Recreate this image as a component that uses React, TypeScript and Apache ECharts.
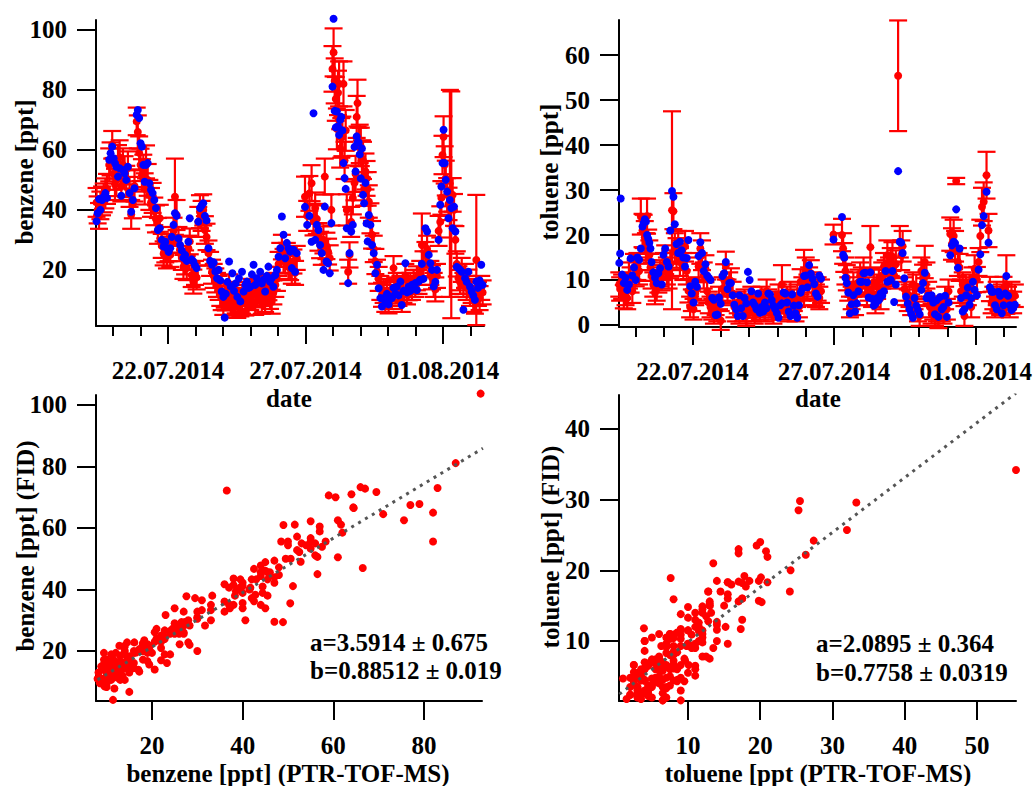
import React, { useEffect, useRef } from "react";
import * as echarts from "echarts";

// Each row: [day of July 2014 (32 = 01.08), PTR-TOF-MS value, PTR error, FID value]
const benzeneSamples = [
  [19.40, 42.5, 4.8, 36.2], [19.44, 40.0, 4.5, 38.9], [19.49, 38.0, 4.3, 43.6], [19.54, 41.5, 4.6, 40.0],
  [19.60, 43.0, 4.8, 43.3], [19.66, 44.0, 4.8, 44.4], [19.72, 45.5, 5.0, 45.6], [19.78, 47.0, 5.0, 44.0],
  [19.86, 55.0, 5.5, 56.7], [19.91, 57.0, 5.5, 58.9], [19.97, 61.7, 4.6, 61.1], [20.02, 52.0, 5.3, 57.2],
  [20.07, 48.5, 5.2, 55.6], [20.12, 50.0, 5.4, 54.4], [20.18, 56.0, 5.6, 51.1], [20.24, 57.5, 5.7, 53.9],
  [20.30, 48.0, 5.2, 44.7], [20.36, 55.0, 5.5, 53.3], [20.42, 52.5, 5.4, 52.2], [20.48, 49.5, 5.2, 50.0],
  [20.54, 54.0, 5.5, 54.4], [20.60, 46.0, 5.0, 45.6], [20.66, 38.5, 4.8, 39.4], [20.72, 42.0, 4.8, 43.3],
  [20.78, 48.0, 5.2, 47.2], [20.86, 69.5, 4.6, 71.7], [20.90, 66.0, 5.5, 73.3], [20.95, 59.0, 5.5, 70.6],
  [21.00, 55.0, 5.4, 62.2], [21.05, 51.5, 5.4, 61.1], [21.10, 53.0, 5.4, 55.0], [21.15, 47.0, 5.2, 49.4],
  [21.20, 56.0, 5.5, 55.0], [21.26, 50.0, 5.3, 55.6], [21.32, 45.0, 5.0, 48.9], [21.38, 42.5, 4.8, 46.7],
  [21.44, 44.0, 5.0, 45.6], [21.50, 39.5, 4.6, 43.3], [21.56, 37.0, 4.5, 40.6], [21.63, 33.0, 4.3, 33.3],
  [21.70, 37.2, 4.5, 33.9], [21.77, 28.0, 4.0, 30.0], [21.84, 25.5, 4.0, 27.8], [21.90, 26.5, 4.0, 29.4],
  [21.96, 24.5, 4.0, 27.2], [22.02, 27.0, 4.1, 26.0], [22.08, 25.0, 4.0, 27.2], [22.14, 30.0, 4.3, 31.0],
  [22.20, 33.0, 4.4, 35.0], [22.25, 44.4, 12.7, 38.9], [22.31, 38.3, 5.0, 38.0], [22.38, 30.0, 4.3, 30.5],
  [22.44, 27.0, 4.1, 28.3], [22.50, 24.0, 4.0, 26.5], [22.56, 21.0, 4.0, 24.0], [22.62, 22.5, 4.0, 25.0],
  [22.68, 20.6, 4.0, 23.0], [22.74, 27.2, 4.2, 29.4], [22.79, 29.5, 4.3, 37.2], [22.86, 18.3, 4.0, 23.5],
  [22.92, 16.1, 4.0, 22.8], [22.98, 19.0, 4.0, 21.5], [23.04, 17.5, 4.0, 20.6], [23.10, 36.0, 5.0, 36.1],
  [23.16, 39.4, 5.5, 40.6], [23.22, 38.0, 5.0, 41.5], [23.28, 40.0, 5.2, 42.2], [23.34, 33.3, 4.6, 38.0],
  [23.40, 31.0, 4.4, 36.5], [23.47, 25.6, 4.2, 27.2], [23.53, 22.0, 4.0, 23.0], [23.60, 19.4, 4.0, 21.7],
  [23.66, 18.0, 4.0, 22.5], [23.72, 16.5, 4.0, 19.5], [23.78, 15.0, 4.0, 17.2], [23.84, 14.0, 4.0, 20.0],
  [23.90, 12.0, 4.0, 16.5], [23.95, 10.6, 4.0, 12.8], [24.01, 9.0, 4.0, 11.0], [24.06, 11.4, 4.0, 4.1],
  [24.10, 10.5, 4.0, 12.0], [24.16, 12.0, 4.0, 16.0], [24.22, 14.5, 4.0, 22.8], [24.28, 9.0, 4.0, 14.5],
  [24.34, 11.0, 4.0, 18.9], [24.40, 8.2, 4.0, 13.0], [24.46, 9.5, 4.0, 15.5], [24.52, 8.0, 4.0, 11.0],
  [24.58, 10.0, 4.0, 17.2], [24.63, 8.5, 4.0, 9.5], [24.69, 9.4, 4.0, 19.4], [24.75, 12.0, 4.0, 12.8],
  [24.81, 8.8, 4.0, 15.0], [24.87, 11.0, 4.0, 16.1], [24.93, 9.0, 4.0, 14.0], [24.99, 10.6, 4.0, 14.4],
  [25.05, 13.0, 4.0, 18.5], [25.11, 12.8, 4.0, 21.7], [25.17, 9.0, 4.0, 15.0], [25.23, 11.5, 4.0, 17.2],
  [25.29, 14.0, 4.0, 16.1], [25.35, 12.0, 4.0, 19.4], [25.41, 9.4, 4.0, 15.5], [25.47, 13.0, 4.0, 16.7],
  [25.53, 10.0, 4.0, 12.8], [25.59, 14.5, 4.0, 18.0], [25.65, 13.9, 4.0, 21.1], [25.71, 11.0, 4.0, 16.0],
  [25.77, 9.4, 4.0, 17.2], [25.83, 12.5, 4.0, 14.4], [25.90, 15.0, 4.0, 18.3], [25.96, 17.0, 4.0, 20.0],
  [26.02, 22.0, 4.0, 24.4], [26.08, 25.0, 4.0, 27.2], [26.14, 27.6, 4.1, 37.8], [26.20, 23.0, 4.0, 31.7],
  [26.26, 22.8, 4.0, 23.9], [26.32, 25.0, 4.0, 29.0], [26.38, 21.0, 4.0, 27.2], [26.44, 20.6, 4.0, 26.1],
  [26.50, 19.4, 4.0, 20.6], [26.56, 22.8, 4.0, 26.7], [26.62, 19.0, 4.0, 19.4], [26.68, 24.0, 4.0, 25.6],
  [26.98, 44.4, 6.7, 41.0], [27.06, 38.0, 5.0, 35.0], [27.14, 45.5, 5.8, 38.0], [27.22, 48.9, 6.0, 29.4],
  [27.29, 36.5, 5.0, 72.2], [27.35, 40.6, 5.2, 30.0], [27.41, 37.0, 5.0, 35.0], [27.47, 31.0, 4.6, 33.3],
  [27.53, 28.3, 4.4, 28.3], [27.59, 26.0, 4.3, 25.6], [27.65, 30.0, 4.5, 20.0], [27.70, 51.1, 6.0, 41.1],
  [27.76, 28.0, 4.4, 22.8], [27.82, 26.1, 4.3, 22.2], [27.88, 24.0, 4.2, 18.9], [27.94, 40.0, 5.2, 35.6],
  [27.98, 87.0, 7.6, 81.1], [28.02, 92.5, 8.0, 103.7], [28.06, 83.0, 7.5, 73.0], [28.10, 77.0, 7.3, 67.5],
  [28.14, 67.0, 6.8, 72.8], [28.18, 79.0, 7.4, 67.8], [28.22, 82.0, 7.5, 65.0], [28.26, 60.5, 6.4, 70.0],
  [28.30, 64.0, 6.6, 71.0], [28.34, 64.5, 6.6, 66.5], [28.38, 82.0, 7.5, 55.6], [28.42, 56.5, 6.2, 50.6],
  [28.46, 66.5, 6.8, 47.0], [28.50, 40.0, 5.2, 33.9], [28.55, 19.4, 4.0, 15.6], [28.60, 25.0, 4.2, 25.6],
  [28.66, 36.0, 5.0, 32.8], [28.72, 44.0, 5.5, 35.0], [28.78, 49.0, 5.8, 61.0], [28.82, 52.0, 6.0, 52.8],
  [28.86, 71.0, 7.0, 64.5], [28.89, 75.6, 7.8, 62.5], [28.93, 61.0, 6.4, 62.5], [28.97, 62.0, 6.4, 58.5],
  [29.01, 61.0, 6.4, 50.5], [29.05, 57.0, 6.2, 60.5], [29.09, 56.5, 6.2, 45.0], [29.13, 47.0, 5.6, 42.2],
  [29.18, 52.8, 6.0, 49.0], [29.22, 50.5, 5.8, 35.5], [29.26, 47.0, 5.6, 29.5], [29.30, 42.8, 5.4, 38.3],
  [29.36, 37.2, 5.0, 35.0], [29.42, 31.7, 4.6, 28.3], [29.48, 27.0, 4.4, 25.6], [29.54, 22.8, 4.2, 18.9],
  [29.60, 19.4, 4.0, 21.7], [29.66, 17.0, 4.0, 13.9], [29.72, 14.0, 4.0, 10.6], [29.78, 11.7, 4.0, 7.8],
  [29.84, 13.0, 4.0, 10.6], [29.90, 10.0, 4.0, 9.4], [29.96, 12.0, 4.0, 12.0], [30.02, 9.5, 4.0, 8.5],
  [30.08, 12.8, 4.0, 11.0], [30.14, 11.0, 4.0, 10.6], [30.20, 20.6, 4.0, 14.0], [30.26, 13.5, 4.0, 12.0],
  [30.32, 15.0, 4.0, 14.4], [30.38, 12.0, 4.0, 11.5], [30.45, 14.0, 4.0, 16.1], [30.50, 10.0, 4.0, 8.3],
  [30.56, 13.0, 4.0, 13.0], [30.63, 18.0, 4.0, 22.2], [30.69, 12.5, 4.0, 12.5], [30.75, 13.9, 4.0, 14.4],
  [30.81, 15.0, 4.0, 13.0], [30.87, 14.0, 4.0, 15.0], [30.93, 16.0, 4.0, 14.5], [30.99, 15.0, 4.0, 15.6],
  [31.05, 17.2, 4.0, 13.3], [31.11, 16.0, 4.0, 16.1], [31.17, 19.0, 4.0, 16.7], [31.23, 28.3, 10.5, 22.0],
  [31.29, 22.0, 4.2, 17.0], [31.36, 25.0, 4.3, 33.9], [31.42, 27.0, 4.4, 32.8], [31.48, 22.0, 4.2, 25.0],
  [31.54, 19.0, 4.0, 22.2], [31.60, 17.5, 4.0, 20.0], [31.66, 15.0, 4.0, 14.5], [31.72, 13.5, 4.0, 16.0],
  [31.78, 18.0, 4.0, 20.0], [31.84, 33.0, 5.0, 30.0], [31.90, 36.0, 5.2, 41.7], [31.94, 44.0, 5.6, 47.8],
  [31.98, 58.3, 6.4, 55.6], [32.02, 64.4, 6.8, 66.7], [32.06, 55.0, 6.2, 55.6], [32.10, 50.6, 5.8, 50.0],
  [32.15, 45.0, 5.6, 46.1], [32.20, 42.0, 5.4, 37.2], [32.25, 45.5, 34.5, 43.3], [32.30, 41.7, 37.8, 40.6],
  [32.35, 45.0, 5.6, 33.9], [32.40, 40.0, 5.3, 41.1], [32.45, 30.0, 4.6, 32.8], [32.50, 22.0, 4.2, 21.0],
  [32.56, 17.2, 4.0, 20.6], [32.62, 16.0, 4.0, 20.0], [32.68, 20.0, 4.0, 19.4], [32.74, 15.0, 4.0, 6.7],
  [32.80, 18.0, 4.0, 17.2], [32.86, 14.0, 4.0, 16.0], [32.92, 16.1, 4.0, 19.4], [32.98, 12.0, 4.0, 14.4],
  [33.04, 13.0, 4.0, 12.8], [33.10, 10.0, 4.0, 11.5], [33.16, 9.4, 4.0, 10.0], [33.21, 23.3, 21.7, 16.1],
  [33.27, 12.0, 4.0, 14.0], [33.33, 10.6, 4.0, 16.5], [33.39, 14.0, 4.0, 21.7], [33.44, 12.5, 4.0, 15.0],
];

const tolueneSamples = [
  [19.42, 9.0, 2.7, 13.8], [19.45, 8.0, 2.6, 15.9], [19.47, null, null, 28.1], [19.52, 8.5, 2.7, 11.2],
  [19.58, 6.3, 2.6, 9.3], [19.64, 7.0, 2.6, 10.5], [19.70, 6.0, 2.5, 7.8], [19.76, 11.0, 2.9, 9.0],
  [19.82, 10.0, 2.8, 14.8], [19.88, 7.5, 2.6, 11.0], [19.94, 12.8, 3.0, 12.8], [20.00, 11.5, 2.9, 10.0],
  [20.06, 13.0, 3.0, 15.0], [20.12, 12.0, 3.0, 14.5], [20.18, 24.1, 4.0, 17.0], [20.24, 21.0, 3.7, 21.9],
  [20.28, 20.8, 3.7, 22.7], [20.32, 19.5, 3.6, 23.5], [20.36, 17.0, 3.4, 23.0], [20.40, 24.2, 3.9, 20.0],
  [20.44, 17.8, 3.4, 19.2], [20.48, 15.5, 3.3, 18.3], [20.52, 12.8, 3.0, 17.0], [20.56, 11.0, 2.9, 14.0],
  [20.62, 9.0, 2.7, 11.7], [20.68, 7.2, 2.6, 10.5], [20.74, 8.0, 2.6, 9.3], [20.80, 10.0, 2.8, 11.5],
  [20.86, 11.5, 2.9, 12.6], [20.92, 10.5, 2.8, 9.0], [20.98, 13.0, 3.0, 15.6], [21.04, 14.5, 3.2, 17.0],
  [21.10, 12.0, 3.0, 14.0], [21.16, 11.0, 2.9, 13.0], [21.22, 13.5, 3.1, 21.0], [21.28, 25.5, 22.0, 29.8],
  [21.33, 25.3, 4.0, 28.5], [21.38, 17.0, 3.4, 22.4], [21.44, 16.0, 3.3, 18.0], [21.50, 17.5, 3.4, 16.0],
  [21.56, 14.0, 3.1, 18.5], [21.62, 15.5, 3.3, 16.6], [21.68, 13.0, 3.0, 15.0], [21.74, 17.5, 3.4, 13.0],
  [21.80, 12.0, 3.0, 14.9], [21.86, 7.6, 2.6, 18.9], [21.92, 4.0, 2.3, 8.6], [21.98, 5.5, 2.4, 7.0],
  [22.04, 3.5, 2.3, 5.0], [22.10, 7.0, 2.6, 9.6], [22.16, 8.0, 2.6, 8.5], [22.22, 13.0, 3.0, 15.3],
  [22.28, 17.0, 3.4, 18.4], [22.34, 15.5, 3.3, 16.0], [22.40, 11.0, 2.9, 12.0], [22.46, 12.5, 3.0, 13.5],
  [22.52, 7.5, 2.6, 11.0], [22.58, 5.0, 2.4, 10.5], [22.64, 4.0, 2.3, 10.0], [22.70, 3.5, 2.3, 6.0],
  [22.76, 2.5, 2.2, 5.6], [22.82, 4.5, 2.3, 2.2], [22.88, 3.0, 2.2, 2.3], [22.94, 6.0, 2.5, 6.1],
  [23.00, 1.0, 2.1, 4.7], [23.06, 8.0, 2.6, 10.9], [23.12, 10.0, 3.5, 11.5], [23.18, 13.2, 3.1, 14.0],
  [23.24, 7.5, 2.6, 8.0], [23.30, 9.0, 2.7, 9.3], [23.36, 9.8, 2.8, 9.3], [23.42, 7.0, 2.6, 6.6],
  [23.48, 4.0, 2.3, 4.5], [23.54, 3.0, 2.2, 3.5], [23.60, 5.0, 2.4, 2.0], [23.66, 2.5, 2.2, 6.6],
  [23.72, 4.5, 2.3, 3.7], [23.78, 3.0, 2.2, 2.0], [23.84, 5.5, 2.4, 6.0], [23.90, 2.0, 2.2, 4.8],
  [23.96, 3.9, 2.3, 11.8], [24.02, 4.0, 2.3, 10.0], [24.08, 6.0, 2.5, 7.5], [24.14, 3.0, 2.2, 5.0],
  [24.20, 2.5, 2.2, 4.4], [24.26, 4.5, 2.3, 3.5], [24.32, 5.0, 2.4, 7.0], [24.38, 3.5, 2.3, 2.7],
  [24.44, 6.0, 2.5, 4.0], [24.50, 4.0, 2.3, 3.0], [24.56, 3.0, 2.2, 5.0], [24.62, 7.5, 2.6, 3.7],
  [24.68, 5.5, 2.4, 7.0], [24.74, 4.5, 2.3, 6.8], [24.80, 3.5, 2.3, 5.5], [24.86, 2.5, 2.2, 4.3],
  [24.92, 5.0, 2.4, 3.5], [24.98, 4.0, 2.3, 2.6], [25.04, 6.5, 2.5, 1.6], [25.10, 3.5, 2.3, 4.4],
  [25.16, 9.0, 4.3, 4.8], [25.22, 5.0, 2.4, 7.2], [25.28, 4.0, 2.3, 7.0], [25.34, 6.0, 2.5, 5.0],
  [25.40, 3.0, 2.2, 3.0], [25.46, 7.0, 2.6, 2.0], [25.52, 4.5, 2.3, 6.8], [25.58, 5.5, 2.4, 4.3],
  [25.64, 3.0, 2.2, 2.6], [25.70, 6.5, 2.5, 1.6], [25.76, 4.0, 2.3, 4.4], [25.82, 9.6, 2.8, 7.2],
  [25.88, 8.0, 2.6, 8.1], [25.94, 10.5, 6.2, 10.9], [26.00, 12.0, 3.0, 11.0], [26.06, 8.5, 2.7, 8.4],
  [26.12, 10.0, 2.8, 13.3], [26.18, 11.5, 2.9, 11.4], [26.24, 9.0, 2.7, 10.3], [26.30, 7.0, 2.6, 9.1],
  [26.36, 6.5, 2.5, 7.0], [26.42, 8.0, 2.6, 6.3], [26.48, 6.0, 2.5, 11.0], [26.54, 7.5, 2.6, 10.3],
  [26.98, 20.1, 2.2, 19.0], [27.28, 20.0, 3.6, 24.0], [27.32, 17.0, 3.4, 15.6], [27.36, 15.0, 3.2, 15.0],
  [27.40, 12.0, 3.0, 10.5], [27.45, 10.5, 2.8, 9.3], [27.50, 8.0, 2.6, 7.2], [27.56, 4.0, 2.3, 2.6],
  [27.62, 6.0, 2.5, 4.6], [27.68, 9.0, 2.7, 6.6], [27.74, 4.5, 2.3, 3.0], [27.80, 7.0, 2.6, 4.8],
  [27.86, 9.5, 2.8, 7.5], [27.92, 11.0, 2.9, 9.6], [27.98, 10.0, 2.8, 9.6], [28.04, 12.0, 3.0, 11.5],
  [28.10, 9.0, 2.7, 11.6], [28.16, 7.0, 2.6, 9.5], [28.22, 8.0, 2.6, 6.1], [28.28, 17.3, 4.7, 11.7],
  [28.34, 6.5, 2.5, 5.8], [28.40, 9.5, 2.8, 4.3], [28.46, 5.0, 2.4, 4.7], [28.52, 8.5, 2.7, 6.0],
  [28.58, 10.0, 2.8, 5.5], [28.64, 6.0, 2.5, 7.0], [28.70, 11.0, 2.9, 6.5], [28.76, 13.0, 3.0, 7.5],
  [28.82, 11.5, 2.9, 12.0], [28.88, 15.5, 3.3, 9.6], [28.94, 12.0, 3.0, 9.8], [29.00, 14.0, 3.1, 10.0],
  [29.06, 15.2, 3.2, 12.0], [29.12, 11.0, 2.9, 5.1], [29.18, 13.5, 3.1, 9.0], [29.26, 55.4, 12.3, 34.2],
  [29.32, 18.5, 3.5, 18.5], [29.37, 15.5, 3.3, 18.3], [29.42, 17.5, 3.4, 16.0], [29.48, 8.0, 2.6, 10.4],
  [29.54, 7.0, 2.6, 6.3], [29.60, 5.5, 2.4, 4.8], [29.66, 6.5, 2.5, 3.5], [29.72, 4.5, 2.3, 2.5],
  [29.78, 9.0, 2.7, 1.6], [29.84, 6.0, 2.5, 6.0], [29.90, 8.5, 2.7, 4.3], [29.96, 3.0, 2.2, 3.3],
  [30.02, 2.0, 2.2, 2.4], [30.08, 12.0, 3.0, 7.8], [30.14, 10.5, 2.9, 9.3], [30.20, 14.0, 3.6, 11.6],
  [30.26, 11.0, 2.9, 6.0], [30.32, 7.0, 2.6, 6.5], [30.38, 4.0, 2.3, 6.0], [30.44, 2.5, 2.2, 6.6],
  [30.50, 3.5, 2.3, 5.0], [30.56, 2.0, 2.2, 2.4], [30.62, 3.0, 2.2, 5.5], [30.68, 1.5, 2.2, 1.8],
  [30.74, 4.0, 2.3, 6.2], [30.80, 3.0, 2.2, 3.5], [30.86, 2.5, 2.2, 4.0], [30.92, 6.0, 2.5, 6.5],
  [30.98, 3.5, 2.3, 1.8], [31.04, 7.5, 2.6, 5.0], [31.10, 20.2, 3.7, 15.5], [31.16, 18.0, 3.5, 17.7],
  [31.22, 19.8, 3.6, 18.5], [31.27, 17.5, 3.4, 18.2], [31.31, 32.0, 0.7, 25.7], [31.37, 14.0, 3.1, 12.7],
  [31.43, 12.8, 3.0, 17.0], [31.48, 7.5, 2.6, 6.0], [31.54, 9.0, 2.7, 3.0], [31.60, 2.0, 2.2, 3.5],
  [31.66, 8.0, 2.6, 6.6], [31.72, 7.0, 2.6, 8.3], [31.78, 8.5, 2.7, 4.5], [31.84, 4.0, 2.3, 6.0],
  [31.90, 10.0, 2.8, 9.6], [31.96, 12.5, 3.0, 7.8], [32.04, 10.1, 2.8, 6.6], [32.10, 14.0, 3.1, 12.3],
  [32.16, 19.8, 3.6, 15.7], [32.22, 26.3, 4.2, 22.2], [32.28, 27.4, 4.3, 24.2], [32.38, 33.3, 5.2, 29.6],
  [32.45, 21.0, 3.7, 18.3], [32.50, 8.0, 2.7, 8.4], [32.56, 5.0, 2.4, 7.4], [32.62, 6.0, 2.5, 7.4],
  [32.68, 4.0, 2.3, 4.4], [32.74, 7.0, 2.6, 3.5], [32.80, 5.5, 2.4, 7.4], [32.86, 4.5, 2.3, 6.5],
  [32.92, 6.5, 2.5, 2.6], [32.98, 8.0, 2.7, 4.4], [33.04, 5.0, 2.4, 7.0], [33.08, 9.0, 6.5, 10.9],
  [33.14, 6.0, 2.5, 6.5], [33.20, 4.0, 2.3, 4.4], [33.26, 7.0, 2.6, 3.3], [33.32, 5.0, 2.4, 3.7],
  [33.38, 6.5, 2.5, 4.5],
];

const dayTicks = [20, 21, 22, 23, 24, 25, 26, 27, 28, 29, 30, 31, 32, 33];
const dateTicks = [22, 27, 32];
const dateLabels = ["22.07.2014", "27.07.2014", "01.08.2014"];
const benzeneTicks = [20, 40, 60, 80, 100];
const tolueneTicks = [0, 10, 20, 30, 40, 50, 60];
const benzeneScatterXTicks = [20, 40, 60, 80];
const tolueneScatterXTicks = [10, 20, 30, 40, 50];
const tolueneScatterYTicks = [10, 20, 30, 40];
// fit y = a + b*x : [a, a error, b, b error]
const benzeneFit = [3.5914, 0.675, 0.88512, 0.019];
const tolueneFit = [2.0895, 0.364, 0.7758, 0.0319];

const FONT_FAMILY = '"Liberation Serif", "Times New Roman", serif';
const FS = 25;
const txt = { fontFamily: FONT_FAMILY, fontWeight: "bold", fontSize: FS, color: "#000" };
const RED = "#ff0000";
const BLUE = "#0000ff";

function yAx(gridIndex, min, max, ticks) {
  return {
    type: "value", gridIndex, min, max, position: "left",
    axisLine: { show: true, onZero: false, lineStyle: { color: "#000", width: 2 } },
    axisTick: { show: true, customValues: ticks, length: 19, lineStyle: { color: "#000", width: 2 } },
    axisLabel: { show: true, customValues: ticks, margin: 29, ...txt },
    splitLine: { show: false },
  };
}

function xAx(gridIndex, min, max, ticks, len, showLine, labelTicks, formatter) {
  return {
    type: "value", gridIndex, min, max, position: "bottom",
    axisLine: { show: showLine, onZero: false, lineStyle: { color: "#000", width: 2 } },
    axisTick: { show: true, customValues: ticks, length: len, lineStyle: { color: "#000", width: 2 } },
    axisLabel: labelTicks
      ? { show: true, customValues: labelTicks, margin: 32, formatter, ...txt }
      : { show: false },
    splitLine: { show: false },
  };
}

function errorBars(rows, xi, yi) {
  return {
    type: "custom", xAxisIndex: xi, yAxisIndex: yi, z: 2, clip: false,
    data: rows.filter((r) => r[1] !== null).map((r) => [r[0], r[1] - r[2], r[1] + r[2]]),
    encode: { x: 0, y: [1, 2] },
    renderItem: (params, api) => {
      const x = api.value(0);
      const lo = api.coord([x, api.value(1)]);
      const hi = api.coord([x, api.value(2)]);
      const hw = 9;
      const style = { stroke: RED, lineWidth: 2.2 };
      return {
        type: "group",
        children: [
          { type: "line", shape: { x1: lo[0], y1: lo[1], x2: hi[0], y2: hi[1] }, style },
          { type: "line", shape: { x1: hi[0] - hw, y1: hi[1], x2: hi[0] + hw, y2: hi[1] }, style },
          { type: "line", shape: { x1: lo[0] - hw, y1: lo[1], x2: lo[0] + hw, y2: lo[1] }, style },
        ],
      };
    },
  };
}

function dots(data, color, xi, yi, z) {
  return {
    type: "scatter", xAxisIndex: xi, yAxisIndex: yi, z, clip: false,
    symbol: "circle", symbolSize: 8, itemStyle: { color, opacity: 1, borderWidth: 0 },
    data,
  };
}

function fitLine(fit, x0, x1, xi, yi) {
  return {
    type: "line", xAxisIndex: xi, yAxisIndex: yi, z: 10, showSymbol: false, clip: true,
    lineStyle: { color: "#555555", width: 3, type: [3, 5] },
    data: [[x0, fit[0] + fit[2] * x0], [x1, fit[0] + fit[2] * x1]],
  };
}

const dateFmt = (v) => dateLabels[dateTicks.indexOf(Math.round(v))] || "";
const font = `bold ${FS}px ${FONT_FAMILY}`;

function label(text, x, y, rotate, align = "center") {
  return {
    type: "text", x, y, rotation: rotate ? Math.PI / 2 : 0, z: 20,
    style: { text, font, fill: "#000", align, verticalAlign: "middle" },
  };
}

export default function App() {
  const ref = useRef(null);
  useEffect(() => {
    const chart = echarts.init(ref.current, null, { renderer: "svg" });
    const bz = benzeneSamples;
    const tl = tolueneSamples;
    const withPtr = (rows) => rows.filter((r) => r[1] !== null);
    chart.setOption({
      animation: false,
      backgroundColor: "#fff",
      grid: [
        { left: 96, top: 20, width: 388, height: 306 },
        { left: 619, top: 20, width: 397, height: 307 },
        { left: 96, top: 395, width: 386, height: 306 },
        { left: 619, top: 395, width: 397, height: 306 },
      ],
      xAxis: [
        xAx(0, 19.38, 33.49, dayTicks, 10, true),
        xAx(0, 19.38, 33.49, dateTicks, 18, false, dateTicks, dateFmt),
        xAx(1, 19.41, 33.42, dayTicks, 10, true),
        xAx(1, 19.41, 33.42, dateTicks, 18, false, dateTicks, dateFmt),
        xAx(2, 7.65, 92.8, benzeneScatterXTicks, 19, true, benzeneScatterXTicks),
        xAx(3, 0.45, 55.4, tolueneScatterXTicks, 19, true, tolueneScatterXTicks),
      ],
      yAxis: [
        yAx(0, 1.3, 103.3, benzeneTicks),
        yAx(1, -0.45, 67.8, tolueneTicks),
        yAx(2, 3.74, 103.25, benzeneTicks),
        yAx(3, 1.51, 44.8, tolueneScatterYTicks),
      ],
      series: [
        errorBars(bz, 1, 0),
        dots(withPtr(bz).map((r) => [r[0], r[1]]), RED, 1, 0, 3),
        dots(bz.map((r) => [r[0], r[3]]), BLUE, 1, 0, 4),
        errorBars(tl, 3, 1),
        dots(withPtr(tl).map((r) => [r[0], r[1]]), RED, 3, 1, 3),
        dots(tl.map((r) => [r[0], r[3]]), BLUE, 3, 1, 4),
        dots(withPtr(bz).map((r) => [r[1], r[3]]), RED, 4, 2, 3),
        fitLine(benzeneFit, 8, 93, 4, 2),
        dots(withPtr(tl).map((r) => [r[1], r[3]]), RED, 5, 3, 3),
        fitLine(tolueneFit, 0.5, 55.4, 5, 3),
      ],
      graphic: [
        label("benzene [ppt]", 24, 172, true),
        label("toluene [ppt]", 549, 172, true),
        label("date", 289, 398, false),
        label("date", 818, 398, false),
        label("benzene [ppt] (FID)", 25, 546, true),
        label("toluene [ppt] (FID)", 550, 547, true),
        label("benzene [ppt] (PTR-TOF-MS)", 288, 773, false),
        label("toluene [ppt (PTR-TOF-MS)", 818, 773, false),
        label(`a=${benzeneFit[0]} \u00b1 ${benzeneFit[1]}`, 310, 642, false, "left"),
        label(`b=${benzeneFit[2]} \u00b1 ${benzeneFit[3]}`, 310, 670, false, "left"),
        label(`a=${tolueneFit[0]} \u00b1 ${tolueneFit[1]}`, 816, 643, false, "left"),
        label(`b=${tolueneFit[2]} \u00b1 ${tolueneFit[3]}`, 816, 672, false, "left"),
      ],
    });
    return () => chart.dispose();
  }, []);
  return (
    <div
      ref={ref}
      style={{ position: "fixed", left: 0, top: 0, width: 1036, height: 786, background: "#fff" }}
    />
  );
}
